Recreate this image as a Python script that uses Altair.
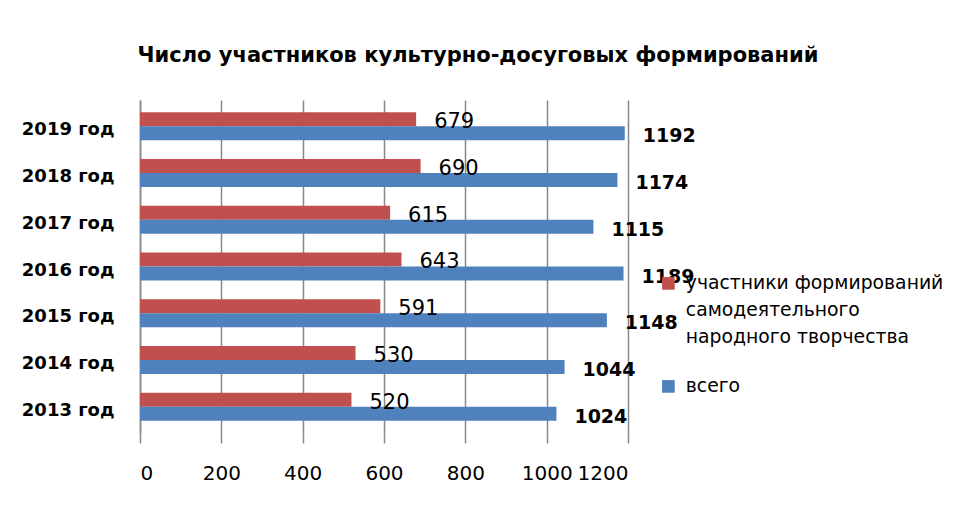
import altair as alt
import pandas as pd

years = ["2019 год", "2018 год", "2017 год", "2016 год", "2015 год", "2014 год", "2013 год"]
participants = [679, 690, 615, 643, 591, 530, 520]
total = [1192, 1174, 1115, 1189, 1148, 1044, 1024]
series = ["участники формирований самодеятельного народного творчества", "всего"]
colors = ["#C0504D", "#4F81BD"]

rows = []
for y, p, t in zip(years, participants, total):
    rows.append({"year": y, "series": series[0], "value": p})
    rows.append({"year": y, "series": series[1], "value": t})
df = pd.DataFrame(rows)

FONT = "DejaVu Sans"

base = alt.Chart(df).encode(
    y=alt.Y("year:N", sort=years, title=None,
            scale=alt.Scale(paddingInner=0.40, paddingOuter=0.26),
            axis=alt.Axis(labelFont=FONT, labelFontSize=18, labelFontWeight="bold",
                          labelColor="#000", labelPadding=26, labelOffset=4, ticks=False,
                          domainColor="#888", domainWidth=1.5)),
    yOffset=alt.YOffset("series:N", sort=series),
)

bars = base.mark_bar(stroke=None).encode(
    x=alt.X("value:Q", title=None,
            scale=alt.Scale(domain=[0, 1200], nice=False),
            axis=alt.Axis(values=[0, 200, 400, 600, 800, 1000, 1200], format="d",
                          labelFont=FONT, labelFontSize=20, labelColor="#000",
                          labelPadding=20, ticks=True, tickColor="#888", tickWidth=1.5,
                          tickSize=10, domain=False,
                          grid=True, gridColor="#888", gridWidth=1.5)),
    color=alt.Color("series:N", sort=series,
                    scale=alt.Scale(domain=series, range=colors),
                    legend=alt.Legend(title=None, orient="none", legendX=519, legendY=174,
                                      labelFont=FONT, labelFontSize=18.8, labelColor="#000",
                                      labelLimit=0, symbolType="square", symbolSize=160,
                                      rowPadding=29, labelOffset=8,
                                      labelExpr="datum.label == 'всего' ? 'всего' : ['участники формирований', 'самодеятельного', 'народного творчества']")),
)

lab_red = alt.Chart(df[df.series == series[0]]).mark_text(
    align="left", baseline="middle", dx=18, dy=3, font=FONT, fontSize=21, color="#000"
).encode(
    y=alt.Y("year:N", sort=years),
    yOffset=alt.YOffset("series:N", sort=series, scale=alt.Scale(domain=series)),
    x="value:Q", text="value:Q",
)
lab_blue = alt.Chart(df[df.series == series[1]]).mark_text(
    align="left", baseline="middle", dx=18, dy=3, font=FONT, fontSize=19, fontWeight="bold", color="#000"
).encode(
    y=alt.Y("year:N", sort=years),
    yOffset=alt.YOffset("series:N", sort=series, scale=alt.Scale(domain=series)),
    x="value:Q", text="value:Q",
)

chart = alt.layer(bars, lab_red, lab_blue).properties(
    width=488, height=333,
    padding={"left": 132, "top": 92, "right": 324, "bottom": 69},
    autosize=alt.AutoSizeParams(type="none"),
    title=alt.TitleParams("Число участников культурно-досуговых  формирований",
                          font=FONT, fontSize=21, fontWeight="bold", color="#000",
                          anchor="middle", dx=94, offset=34),
).configure(style={"guide-label": {"lineHeight": 27}}).configure_view(stroke=None)

chart.save("out.html", embed_options={"renderer": "svg", "actions": False})
